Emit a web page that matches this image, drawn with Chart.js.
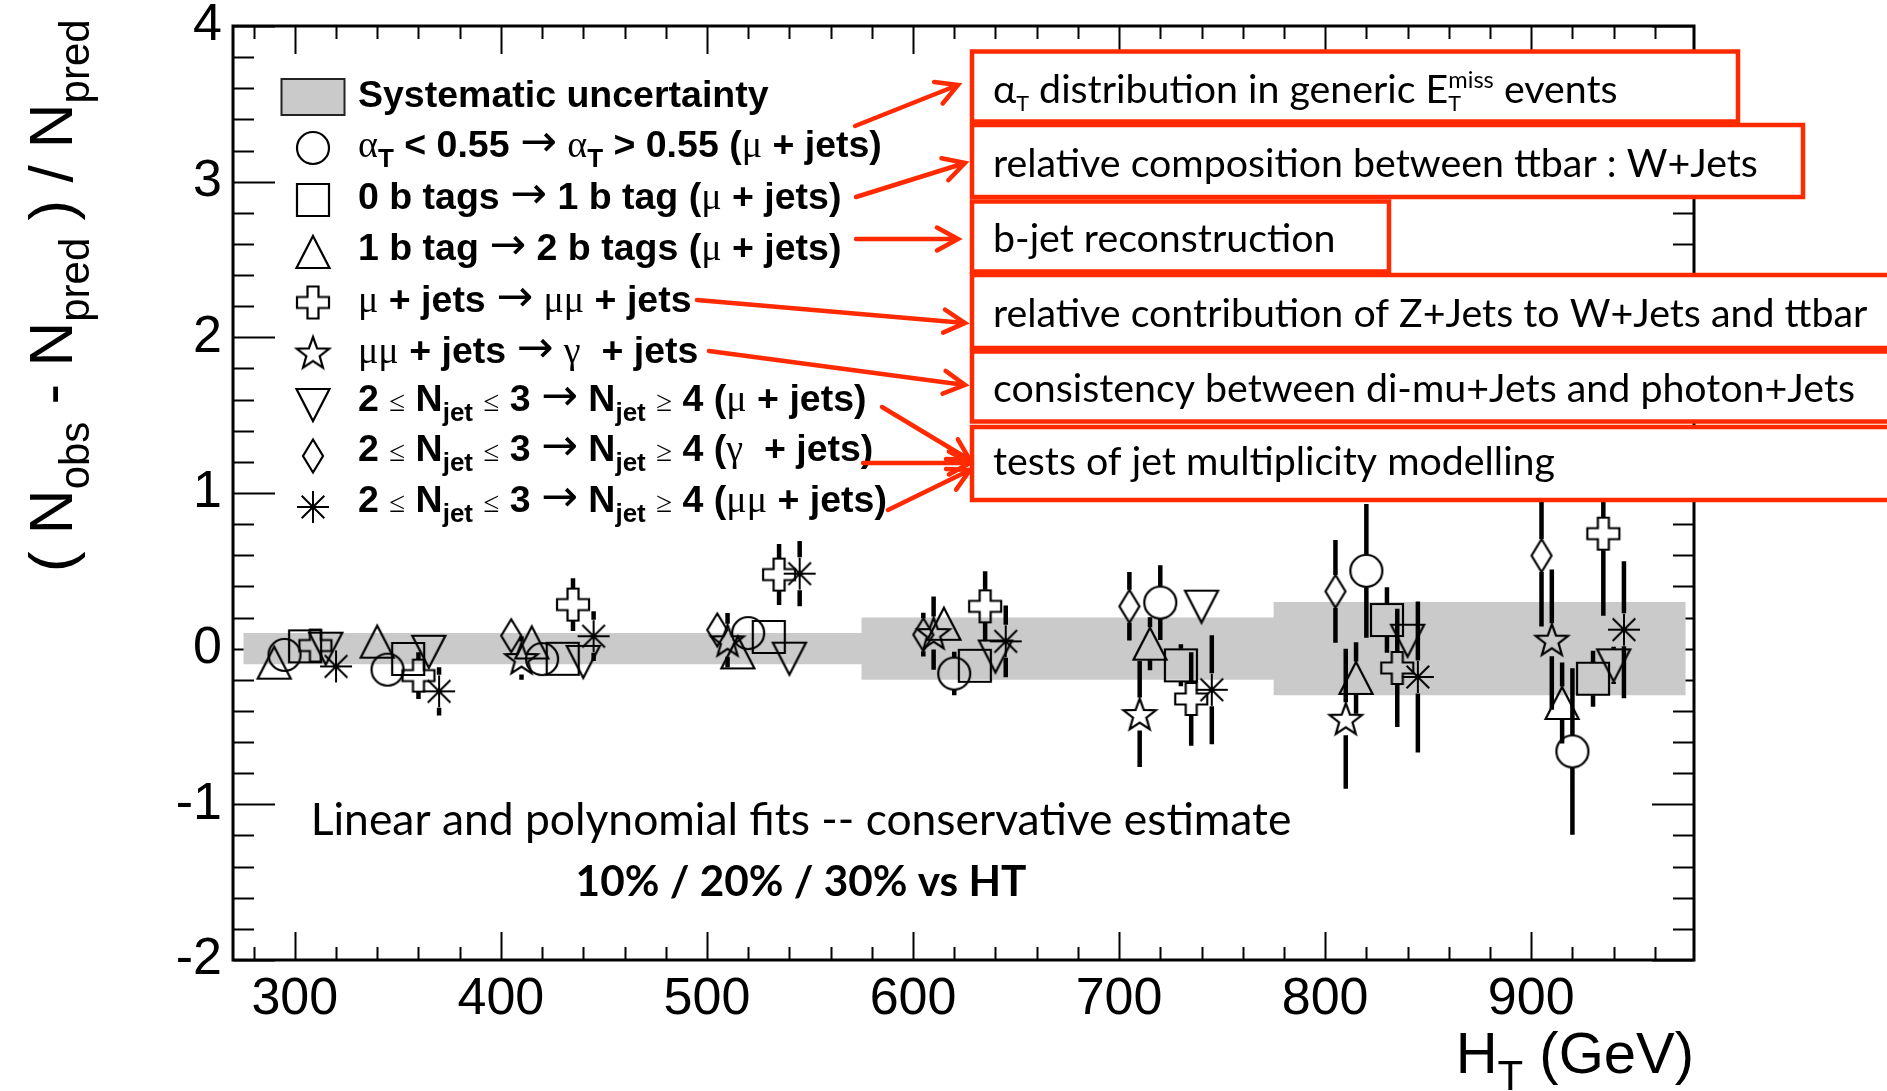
<!DOCTYPE html>
<html><head><meta charset="utf-8">
<script src="https://cdn.jsdelivr.net/npm/chart.js@4.4.0/dist/chart.umd.min.js"></script>
<style>html,body{margin:0;padding:0;background:#fff;}canvas{display:block;}</style>
</head><body>
<canvas id="c" width="1887" height="1091"></canvas>
<script>
// ---------------- data ----------------
const xTickLabels = [300, 400, 500, 600, 700, 800, 900];
const yTickLabels = [-2, -1, 0, 1, 2, 3, 4];

const bandEdges = [275, 575, 775, 975];
const bandHalfWidth = [0.1, 0.2, 0.3, 0.3];

const alphaT_x   = [295, 345, 420, 520, 620, 720, 820, 920];
const alphaT_y   = [-0.04, -0.135, -0.067, 0.10, -0.16, 0.296, 0.50, -0.66];
const alphaT_err = [0.05, 0.07, 0.08, 0.09, 0.14, 0.24, 0.43, 0.535];

const btag01_x   = [305, 355, 430, 530, 630, 730, 830, 930];
const btag01_y   = [0.015, -0.066, -0.065, 0.075, -0.11, -0.107, 0.184, -0.193];
const btag01_err = [0.05, 0.06, 0.07, 0.08, 0.09, 0.135, 0.21, 0.18];

const btag12_x   = [290, 340, 415, 515, 615, 715, 815, 915];
const btag12_y   = [-0.09, 0.045, 0.04, -0.024, 0.16, 0.032, -0.188, -0.349];
const btag12_err = [0.05, 0.06, 0.08, 0.09, 0.10, 0.17, 0.23, 0.26];

const muToMumu_x   = [310, 360, 435, 535, 635, 735, 835, 935];
const muToMumu_y   = [0.02, -0.173, 0.283, 0.476, 0.272, -0.323, -0.124, 0.739];
const muToMumu_err = [0.05, 0.15, 0.17, 0.196, 0.225, 0.30, 0.38, 0.527];

const mumuToGamma_x   = [410, 510, 610, 710, 810, 910];
const mumuToGamma_y   = [-0.06, 0.054, 0.10, -0.42, -0.45, 0.058];
const mumuToGamma_err = [0.14, 0.175, 0.235, 0.34, 0.45, 0.45];

const njetMu_x   = [315, 365, 440, 540, 640, 740, 840, 940];
const njetMu_y   = [0.0, -0.02, -0.085, -0.064, -0.05, 0.27, 0.051, -0.107];
const njetMu_err = [0.04, 0.05, 0.06, 0.07, 0.08, 0.09, 0.10, 0.12];

const njetGamma_x   = [405, 505, 605, 705, 805, 905];
const njetGamma_y   = [0.083, 0.12, 0.09, 0.272, 0.368, 0.598];
const njetGamma_err = [0.09, 0.10, 0.14, 0.22, 0.33, 0.455];

const njetMumu_x   = [320, 370, 445, 545, 645, 745, 845, 945];
const njetMumu_y   = [-0.114, -0.274, 0.08, 0.482, 0.047, -0.264, -0.182, 0.122];
const njetMumu_err = [0.08, 0.155, 0.16, 0.21, 0.23, 0.35, 0.485, 0.44];

// ---------------- marker images ----------------
const MS = 40, MC = 20, MR = 16.5;
function makeMarker(kind) {
  const cv = document.createElement('canvas');
  cv.width = MS; cv.height = MS;
  const g = cv.getContext('2d');
  g.strokeStyle = '#000'; g.lineWidth = 2.2; g.lineJoin = 'miter';
  g.beginPath();
  if (kind === 'circle') {
    g.arc(MC, MC, 16, 0, Math.PI * 2);
  } else if (kind === 'square') {
    g.rect(MC - 16, MC - 16, 32, 32);
  } else if (kind === 'triUp') {
    g.moveTo(MC, MC - 16); g.lineTo(MC + 16.5, MC + 16); g.lineTo(MC - 16.5, MC + 16); g.closePath();
  } else if (kind === 'triDown') {
    g.moveTo(MC, MC + 16); g.lineTo(MC + 16.5, MC - 16); g.lineTo(MC - 16.5, MC - 16); g.closePath();
  } else if (kind === 'diamond') {
    g.moveTo(MC, MC - 16.5); g.lineTo(MC + 10, MC); g.lineTo(MC, MC + 16.5); g.lineTo(MC - 10, MC); g.closePath();
  } else if (kind === 'star') {
    for (let k = 0; k < 10; k++) {
      const r = (k % 2 === 0) ? 17 : 7;
      const a = -Math.PI / 2 + k * Math.PI / 5;
      const px = MC + r * Math.cos(a), py = MC + 1.5 + r * Math.sin(a);
      if (k === 0) g.moveTo(px, py); else g.lineTo(px, py);
    }
    g.closePath();
  } else if (kind === 'cross') {
    const o = 16, w = 5.5;
    const pts = [[-w,-o],[w,-o],[w,-w],[o,-w],[o,w],[w,w],[w,o],[-w,o],[-w,w],[-o,w],[-o,-w],[-w,-w]];
    pts.forEach((p, k) => { if (k === 0) g.moveTo(MC + p[0], MC + p[1]); else g.lineTo(MC + p[0], MC + p[1]); });
    g.closePath();
  } else if (kind === 'asterisk') {
    g.lineWidth = 2;
    const r = 16, d = 16 * Math.SQRT1_2;
    g.moveTo(MC, MC - r); g.lineTo(MC, MC + r);
    g.moveTo(MC - r, MC); g.lineTo(MC + r, MC);
    g.moveTo(MC - d, MC - d); g.lineTo(MC + d, MC + d);
    g.moveTo(MC - d, MC + d); g.lineTo(MC + d, MC - d);
  }
  g.stroke();
  return cv;
}
const markers = {};
['circle','square','triUp','triDown','diamond','star','cross','asterisk'].forEach(k => markers[k] = makeMarker(k));

// ---------------- datasets ----------------
function pts(xs, ys) { return xs.map((x, i) => ({ x: x, y: ys[i] })); }
const series = [
  { label: 'alphaT', x: alphaT_x, y: alphaT_y, err: alphaT_err, m: 'circle' },
  { label: 'btag01', x: btag01_x, y: btag01_y, err: btag01_err, m: 'square' },
  { label: 'btag12', x: btag12_x, y: btag12_y, err: btag12_err, m: 'triUp' },
  { label: 'muToMumu', x: muToMumu_x, y: muToMumu_y, err: muToMumu_err, m: 'cross' },
  { label: 'mumuToGamma', x: mumuToGamma_x, y: mumuToGamma_y, err: mumuToGamma_err, m: 'star' },
  { label: 'njetMu', x: njetMu_x, y: njetMu_y, err: njetMu_err, m: 'triDown' },
  { label: 'njetGamma', x: njetGamma_x, y: njetGamma_y, err: njetGamma_err, m: 'diamond' },
  { label: 'njetMumu', x: njetMumu_x, y: njetMumu_y, err: njetMumu_err, m: 'asterisk' }
];

const BAND = '#cacaca';
const datasets = [
  { type: 'line', label: 'bandHi', data: pts(bandEdges, bandHalfWidth), stepped: 'before',
    borderColor: 'rgba(0,0,0,0)', borderWidth: 0, pointRadius: 0, fill: false, order: 20 },
  { type: 'line', label: 'bandLo', data: pts(bandEdges, bandHalfWidth.map(v => -v)), stepped: 'before',
    borderColor: 'rgba(0,0,0,0)', borderWidth: 0, pointRadius: 0, fill: '-1', backgroundColor: BAND, order: 19 }
];
series.forEach((s, i) => {
  datasets.push({ type: 'scatter', label: s.label, data: pts(s.x, s.y), errors: s.err,
    pointStyle: markers[s.m], pointRadius: 16, showLine: false, order: 10 - i, clip: false });
});

// ---------------- text helpers ----------------
function drawRich(ctx, x, y, segs, fonts, offs, draw) {
  let cx = x, subStart = x, prev = null;
  for (const [t, st] of segs) {
    ctx.font = fonts[st];
    const dy = offs[st] || 0;
    let sx = cx;
    if (st === 'sup' && prev === 'sub') sx = subStart;
    const w = ctx.measureText(t).width;
    if (draw !== false) ctx.fillText(t, sx, y + dy);
    if (st === 'sub') subStart = sx;
    cx = (st === 'sup' && prev === 'sub') ? Math.max(cx, sx + w) : sx + w;
    prev = st;
  }
  return cx - x;
}

const RED = '#ff2a00';
const legendFonts = {
  n: 'bold 37.5px "Liberation Sans"', g: '38px "Liberation Serif"', a: '44px "DejaVu Sans"',
  s: '29px "Liberation Serif"', sub: 'bold 26px "Liberation Sans"'
};
const legendOffs = { sub: 10, a: -1 };
function njetRow(tail) {
  return [['2 ','n'],['≤','s'],[' N','n'],['jet','sub'],[' ','n'],['≤','s'],[' 3 ','n'],['→','a'],[' N','n'],['jet','sub'],[' ','n'],['≥','s'],[' 4 (','n']].concat(tail);
}
const legendRows = [
  { m: 'circle', cy: 148, base: 157, segs: [['α','g'],['T','sub'],[' < 0.55 ','n'],['→','a'],[' ','n'],['α','g'],['T','sub'],[' > 0.55 (','n'],['μ','g'],[' + jets)','n']] },
  { m: 'square', cy: 200, base: 208.5, segs: [['0 b tags ','n'],['→','a'],[' 1 b tag (','n'],['μ','g'],[' + jets)','n']] },
  { m: 'triUp', cy: 252, base: 260, segs: [['1 b tag ','n'],['→','a'],[' 2 b tags (','n'],['μ','g'],[' + jets)','n']] },
  { m: 'cross', cy: 302.5, base: 311.5, segs: [['μ','g'],[' + jets ','n'],['→','a'],[' ','n'],['μμ','g'],[' + jets','n']] },
  { m: 'star', cy: 352.5, base: 363, segs: [['μμ','g'],[' + jets ','n'],['→','a'],[' ','n'],['γ','g'],['  + jets','n']] },
  { m: 'triDown', cy: 405, base: 411, segs: njetRow([['μ','g'],[' + jets)','n']]) },
  { m: 'diamond', cy: 456, base: 461, segs: njetRow([['γ','g'],['  + jets)','n']]) },
  { m: 'asterisk', cy: 507, base: 512, segs: njetRow([['μμ','g'],[' + jets)','n']]) }
];

const boxes = [
  { x: 972, y: 51.5, w: 766, h: 70, base: 103, segs: [['α','n'],['T','sub'],[' distribution in generic E','n'],['T','sub'],['miss','sup'],[' events','n']] },
  { x: 972, y: 125, w: 831, h: 72, base: 177, segs: [['relative composition between ttbar : W+Jets','n']] },
  { x: 972, y: 201.5, w: 417, h: 70, base: 252, segs: [['b-jet reconstruction','n']] },
  { x: 972, y: 275, w: 960, h: 73, base: 327, segs: [['relative contribution of Z+Jets to W+Jets and ttbar','n']] },
  { x: 972, y: 351.5, w: 960, h: 70, base: 402, segs: [['consistency between di-mu+Jets and photon+Jets','n']] },
  { x: 972, y: 427, w: 960, h: 73, base: 475, segs: [['tests of jet multiplicity modelling','n']] }
];
const arrows = [
  [855,126,958,85],[856,197,965,163],[856,239,958,239],[697,300,965,323],
  [709,351,965,385],[882,407,970,460],[863,463,970,463],[888,510,970,470]
];

// ---------------- plugin ----------------
const decor = {
  id: 'decor',
  beforeDraw(chart) {
    const c = chart.ctx;
    c.save(); c.fillStyle = '#fff'; c.fillRect(0, 0, chart.width, chart.height); c.restore();
  },
  beforeDatasetsDraw(chart) {
    const c = chart.ctx, a = chart.chartArea, xs = chart.scales.x, ys = chart.scales.y;
    c.save();
    c.strokeStyle = '#000'; c.lineWidth = 2;
    c.beginPath();
    for (let v = 280; v <= 979; v += 20) {
      const px = Math.round(xs.getPixelForValue(v)) + 0.5;
      const len = (v % 100 === 0) ? 28 : 13;
      c.moveTo(px, a.bottom); c.lineTo(px, a.bottom - len);
      c.moveTo(px, a.top); c.lineTo(px, a.top + len);
    }
    for (let k = -10; k <= 20; k++) {
      const v = k / 5;
      const py = Math.round(ys.getPixelForValue(v)) + 0.5;
      const len = (k % 5 === 0) ? 42 : 21;
      c.moveTo(a.left, py); c.lineTo(a.left + len, py);
      c.moveTo(a.right, py); c.lineTo(a.right - len, py);
    }
    c.stroke();
    c.lineWidth = 3;
    c.strokeRect(a.left, a.top, a.right - a.left, a.bottom - a.top);
    c.restore();
  },
  afterDatasetDraw(chart, args) {
    if (chart.data.datasets[args.index].label !== 'bandLo') return;
    const c = chart.ctx, ys = chart.scales.y;
    c.save();
    c.strokeStyle = '#000'; c.lineWidth = 4.5; c.lineCap = 'butt';
    c.beginPath();
    chart.data.datasets.forEach((ds, di) => {
      if (!ds.errors) return;
      const meta = chart.getDatasetMeta(di);
      ds.data.forEach((p, i) => {
        const el = meta.data[i];
        const px = el.x, py = el.y;
        const top = ys.getPixelForValue(p.y + ds.errors[i]);
        const bot = ys.getPixelForValue(p.y - ds.errors[i]);
        if (top < py - MR) { c.moveTo(px, top); c.lineTo(px, py - MR); }
        if (bot > py + MR) { c.moveTo(px, py + MR); c.lineTo(px, bot); }
      });
    });
    c.stroke();
    c.restore();
  },
  afterDraw(chart) {
    const c = chart.ctx, a = chart.chartArea;
    c.save();
    c.fillStyle = '#000'; c.textBaseline = 'alphabetic'; c.textAlign = 'left';

    // legend
    c.fillStyle = BAND; c.fillRect(281.5, 79, 63, 36);
    c.strokeStyle = '#222'; c.lineWidth = 2; c.strokeRect(281.5, 79, 63, 36);
    c.fillStyle = '#000';
    c.font = legendFonts.n; c.fillText('Systematic uncertainty', 358, 107);
    legendRows.forEach(r => {
      c.drawImage(markers[r.m], 313 - MC, r.cy - MC);
      drawRich(c, 358, r.base, r.segs, legendFonts, legendOffs);
    });

    // annotation boxes
    c.font = '100px Lato';
    const boxSize = 100 * 765 / c.measureText('relative composition between ttbar : W+Jets').width;
    const boxFonts = { n: boxSize + 'px Lato', sub: (boxSize * 0.55) + 'px Lato', sup: (boxSize * 0.6) + 'px Lato' };
    const boxOffs = { sub: 8, sup: -15 };
    boxes.forEach(b => {
      c.fillStyle = '#fff'; c.fillRect(b.x, b.y, b.w, b.h);
      c.strokeStyle = RED; c.lineWidth = 4.5; c.strokeRect(b.x, b.y, b.w, b.h);
      c.fillStyle = '#000';
      drawRich(c, 993, b.base, b.segs, boxFonts, boxOffs);
    });

    // arrows
    c.strokeStyle = RED; c.lineWidth = 4.5; c.lineCap = 'round';
    arrows.forEach(([x1, y1, x2, y2]) => {
      const ang = Math.atan2(y2 - y1, x2 - x1), L = 24, h = 0.5;
      c.beginPath();
      c.moveTo(x1, y1); c.lineTo(x2, y2);
      c.moveTo(x2 - L * Math.cos(ang - h), y2 - L * Math.sin(ang - h)); c.lineTo(x2, y2);
      c.lineTo(x2 - L * Math.cos(ang + h), y2 - L * Math.sin(ang + h));
      c.stroke();
    });

    // bottom text
    c.fillStyle = '#000'; c.textAlign = 'center';
    const l1 = 'Linear and polynomial fits -- conservative estimate';
    c.font = '100px Lato';
    const s1 = 100 * 981 / c.measureText(l1).width;
    c.font = s1 + 'px Lato'; c.fillText(l1, 801, 835);
    const l2 = '10% / 20% / 30% vs HT';
    c.font = 'bold 100px Lato';
    const s2 = 100 * 451 / c.measureText(l2).width;
    c.font = 'bold ' + s2 + 'px Lato'; c.fillText(l2, 801, 896);
    c.textAlign = 'left';

    // x title
    const xf = { n: '58px "Liberation Sans"', sub: '42px "Liberation Sans"' };
    const xsegs = [['H','n'],['T','sub'],[' (GeV)','n']];
    const xw = drawRich(c, 0, 0, xsegs, xf, {}, false);
    drawRich(c, a.right - xw, 1073, xsegs, xf, { sub: 17 });

    // y title
    const yf = { n: '62px "Liberation Sans"', sub: '42px "Liberation Sans"' };
    const ysegs = [['( N','n'],['obs','sub'],[' - N','n'],['pred','sub'],[' ) / N','n'],['pred','sub']];
    c.translate(72, 572); c.rotate(-Math.PI / 2);
    drawRich(c, 0, 0, ysegs, yf, { sub: 17 });
    c.restore();
  }
};

new Chart(document.getElementById('c'), {
  data: { datasets: datasets },
  options: {
    responsive: false, animation: false, devicePixelRatio: 1,
    layout: { padding: { left: 0, right: 193, top: 26, bottom: 0 } },
    plugins: { legend: { display: false }, tooltip: { enabled: false } },
    scales: {
      x: { type: 'linear', min: 270, max: 979,
        afterBuildTicks: s => { s.ticks = xTickLabels.map(v => ({ value: v })); },
        afterFit: s => { s.height = 131; s.paddingLeft = 0; s.paddingRight = 0; },
        grid: { display: false }, border: { display: false },
        ticks: { color: '#000', padding: 0, maxRotation: 0, autoSkip: false,
          font: { family: 'Liberation Sans', size: 52 } } },
      y: { type: 'linear', min: -2, max: 4,
        afterBuildTicks: s => { s.ticks = yTickLabels.map(v => ({ value: v })); },
        afterFit: s => { s.width = 233; s.paddingTop = 0; s.paddingBottom = 0; },
        grid: { display: false }, border: { display: false },
        ticks: { color: '#000', padding: 3, autoSkip: false,
          font: { family: 'Liberation Sans', size: 52 } } }
    }
  },
  plugins: [decor]
});
</script>
</body></html>
